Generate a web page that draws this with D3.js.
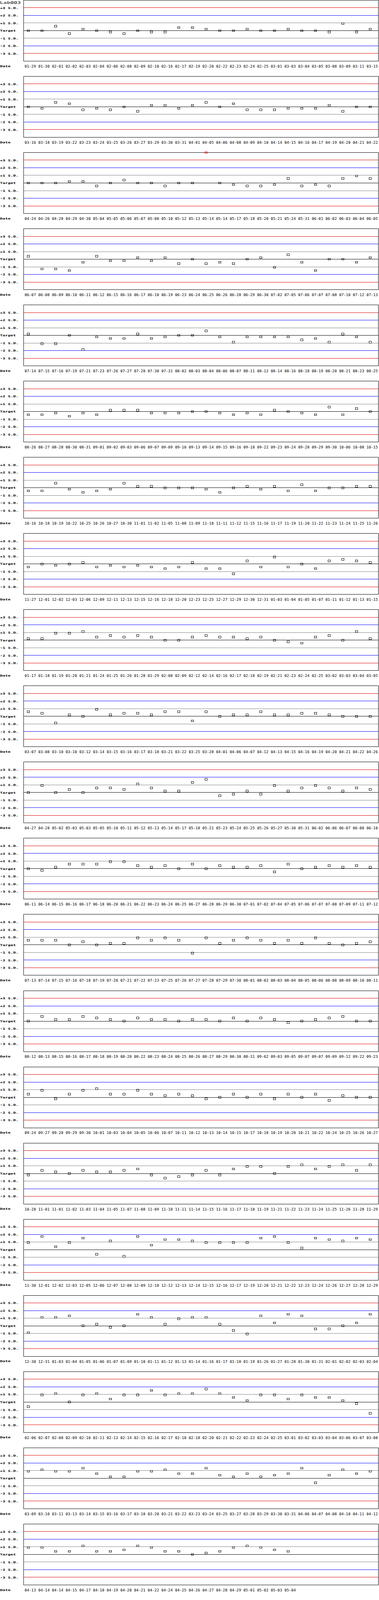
<!DOCTYPE html>
<html>
<head>
<meta charset="utf-8">
<script src="https://cdn.jsdelivr.net/npm/d3@7"></script>
<style>
  html, body { margin: 0; padding: 0; background: #fff; overflow: hidden; }
  svg { display: block; }
</style>
</head>
<body>
<div id="chart"></div>
<script>
// ---------------- DATA ----------------
const chartTitle = "Lab003";
const axisTitle = "Date";
const perPanel = 26;

const limitLevels = [3, 2, 1, 0, -1, -2, -3];
const limitLabels = ["+3 S.D.", "+2 S.D.", "+1 S.D.", "Target", "-1 S.D.", "-2 S.D.", "-3 S.D."];
const limitColors = ["#dc0000", "#0000ff", "#808080", "#000000", "#808080", "#0000ff", "#dc0000"];

const dates = [
  // 1
  "01-29","01-30","02-01","02-02","02-03","02-04","02-06","02-08","02-09","02-10","02-16","02-17","02-19","02-20","02-22","02-23","02-24","02-25","03-01","03-03","03-04","03-05","03-08","03-09","03-11","03-15",
  // 2
  "03-16","03-18","03-19","03-22","03-23","03-24","03-25","03-26","03-27","03-29","03-30","03-31","04-01","04-05","04-06","04-08","04-09","04-10","04-14","04-15","04-16","04-17","04-19","04-20","04-21","04-22",
  // 3
  "04-24","04-26","04-28","04-29","04-30","05-04","05-05","05-06","05-07","05-08","05-10","05-12","05-13","05-14","05-14","05-17","05-18","05-20","05-21","05-24","05-31","06-01","06-02","06-03","06-04","06-05",
  // 4
  "06-07","06-08","06-09","06-10","06-11","06-12","06-15","06-16","06-17","06-18","06-19","06-23","06-24","06-25","06-26","06-28","06-29","06-30","07-02","07-05","07-06","07-07","07-08","07-10","07-12","07-13",
  // 5
  "07-14","07-15","07-16","07-19","07-21","07-23","07-26","07-27","07-28","07-30","07-31","08-02","08-03","08-04","08-06","08-07","08-11","08-12","08-14","08-16","08-18","08-19","08-20","08-21","08-23","08-25",
  // 6
  "08-26","08-27","08-28","08-30","08-31","09-01","09-02","09-03","09-06","09-07","09-09","09-10","09-13","09-14","09-15","09-16","09-18","09-22","09-23","09-24","09-28","09-29","09-30","10-06","10-08","10-15",
  // 7
  "10-16","10-18","10-19","10-22","10-25","10-26","10-27","10-30","11-01","11-02","11-05","11-08","11-09","11-10","11-11","11-12","11-15","11-16","11-17","11-19","11-20","11-22","11-23","11-24","11-25","11-26",
  // 8
  "11-27","12-01","12-02","12-03","12-06","12-09","12-11","12-13","12-15","12-16","12-18","12-20","12-23","12-25","12-27","12-29","12-30","12-31","01-03","01-04","01-05","01-07","01-11","01-12","01-13","01-15",
  // 9
  "01-17","01-18","01-19","01-20","01-21","01-24","01-25","01-26","01-28","01-29","02-08","02-09","02-12","02-14","02-16","02-17","02-18","02-19","02-21","02-23","02-24","02-25","03-02","03-03","03-04","03-05",
  // 10
  "03-07","03-08","03-10","03-10","03-12","03-14","03-15","03-16","03-17","03-18","03-21","03-22","03-25","03-28","04-01","04-06","04-07","04-12","04-13","04-15","04-16","04-19","04-20","04-21","04-22","04-26",
  // 11
  "04-27","04-28","05-02","05-03","05-03","05-05","05-10","05-11","05-12","05-13","05-14","05-17","05-18","05-21","05-23","05-24","05-25","05-26","05-27","05-30","05-31","06-02","06-06","06-07","06-08","06-10",
  // 12
  "06-11","06-14","06-15","06-16","06-17","06-18","06-20","06-21","06-22","06-23","06-24","06-25","06-27","06-28","06-29","06-30","07-01","07-02","07-04","07-05","07-06","07-07","07-08","07-09","07-11","07-12",
  // 13
  "07-13","07-14","07-15","07-16","07-18","07-19","07-20","07-21","07-22","07-23","07-25","07-26","07-27","07-28","07-29","07-30","08-01","08-02","08-03","08-04","08-05","08-06","08-08","08-09","08-10","08-11",
  // 14
  "08-12","08-13","08-15","08-16","08-17","08-18","08-19","08-20","08-22","08-23","08-24","08-25","08-26","08-27","08-29","08-30","08-31","09-02","09-03","09-05","09-07","09-07","09-09","09-12","09-22","09-23",
  // 15
  "09-24","09-27","09-28","09-29","09-30","10-01","10-03","10-04","10-05","10-06","10-07","10-11","10-12","10-13","10-14","10-15","10-17","10-18","10-19","10-20","10-21","10-22","10-24","10-25","10-26","10-27",
  // 16
  "10-28","11-01","11-01","11-02","11-03","11-04","11-05","11-07","11-08","11-09","11-10","11-11","11-14","11-15","11-16","11-17","11-18","11-19","11-21","11-22","11-23","11-24","11-25","11-26","11-28","11-29",
  // 17
  "11-30","12-01","12-02","12-03","12-05","12-06","12-07","12-08","12-09","12-10","12-12","12-13","12-14","12-15","12-16","12-17","12-19","12-20","12-21","12-22","12-23","12-24","12-26","12-27","12-28","12-29",
  // 18
  "12-30","12-31","01-03","01-04","01-05","01-06","01-07","01-09","01-10","01-11","01-12","01-13","01-14","01-16","01-17","01-18","01-19","01-26","01-27","01-28","01-30","01-31","02-01","02-02","02-03","02-04",
  // 19
  "02-06","02-07","02-08","02-09","02-10","02-11","02-13","02-14","02-15","02-16","02-17","02-18","02-18","02-20","02-21","02-22","02-23","02-24","02-25","03-01","03-02","03-03","03-04","03-06","03-07","03-08",
  // 20
  "03-09","03-10","03-11","03-13","03-14","03-15","03-16","03-17","03-18","03-20","03-21","03-22","03-23","03-24","03-25","03-27","03-28","03-29","03-30","03-31","04-06","04-07","04-08","04-10","04-11","04-12",
  // 21
  "04-13","04-14","04-14","04-15","04-17","04-18","04-19","04-20","04-21","04-22","04-24","04-25","04-26","04-27","04-28","04-29","05-01","05-02","05-03","05-04"
];

// deviation from target, in S.D. units
const sdValues = [
  // 1
  0,0,0.6,-0.4,0.2,0,-0.2,-0.4,0,-0.2,-0.2,0.4,0.4,0.2,0,0,0.2,0,0,0.2,0,0,-0.2,0.9,-0.2,0.2,
  // 2
  0,-0.2,0.6,0.4,-0.4,-0.2,-0.4,0,-0.6,0.2,0.2,-0.2,0.2,0.6,0,0.4,-0.4,-0.4,-0.4,-0.2,-0.2,-0.2,0.2,-0.6,0,0,
  // 3
  0,0,0,0.2,0.2,-0.4,0,0.4,0,0,-0.4,0,0,4,0,-0.2,-0.4,-0.4,-0.2,0.6,-0.4,-0.2,-0.4,0.6,0.9,0.6,
  // 4
  0.4,-1.3,-1.3,-1.5,-0.4,0.4,-0.2,-0.2,0.2,-0.2,0.2,-0.6,0,-0.6,-0.4,-0.6,0,0.2,-1.1,0.6,-0.4,-1.5,0,0,-0.4,0.2,
  // 5
  0.2,-1.1,-1.1,0,-1.9,-0.2,-0.4,-0.4,0.2,-0.4,-0.2,0,0,0.6,-0.2,-0.9,-0.2,-0.2,-0.2,-0.2,-0.6,-0.4,-0.9,0.2,-0.2,-0.9,
  // 6
  -0.4,-0.4,-0.2,-0.6,-0.2,-0.4,0.2,0.2,0.2,-0.2,-0.2,-0.2,0,0,-0.2,-0.4,-0.2,-0.4,0.2,0,-0.2,-0.4,0.6,-0.4,0.4,0,
  // 7
  -0.4,-0.4,0.6,-0.2,-0.6,-0.4,-0.2,0.6,0.2,0.2,0,0,0,-0.2,-0.6,0,0.2,-0.2,0.2,-0.4,0.4,-0.4,0,0,0.2,0.2,
  // 8
  -0.4,0,-0.2,0,0.2,-0.4,-0.2,-0.4,-0.2,-0.4,-0.6,-0.4,0.2,-0.6,-0.6,-1.3,0.4,-0.4,0.9,-0.4,0,-0.6,0.4,0.6,0.4,0.2,
  // 9
  0.2,0.2,0.9,0.9,1.1,0.4,0.6,0.4,0.6,0.4,0,0,0.4,0.6,0.4,0.4,0.2,0.4,0,-0.2,-0.4,0.4,0.6,0,1.1,0.2,
  // 10
  0.6,0.4,-0.9,0.2,0,0.9,0.2,0.4,0.4,0.2,0.6,0.6,-0.6,0.6,0,0.2,0.2,0.6,0.2,0.2,0.4,0.4,0.2,0,0,0,
  // 11
  0,0.9,0,0.4,0,0.6,0.6,0.4,1.1,0.6,0.2,0.2,1.3,1.7,-0.4,-0.2,0.2,-0.2,0.9,0.2,0.6,0.9,0.6,0.2,0.6,0.4,
  // 12
  0,-0.2,0.2,0.6,0.6,0.6,0.9,0.9,0.4,0.2,0.4,0,0.6,0,0.4,0.2,0.2,0.4,-0.4,0.6,0,0.2,0.4,0.2,0.4,0.2,
  // 13
  0.6,0.6,0.6,0,0.4,0,0.2,0.2,0.9,0.6,0.9,0.6,-1.1,0.9,0.2,0.6,0.9,0.6,0.2,0.6,0.2,0.9,0.2,0,0.2,0.4,
  // 14
  0,0.6,0.2,0.2,0.6,0.4,0.2,0,0.4,0.2,0.2,0,0.2,0.2,0,0.4,0,0.4,0.2,-0.2,0,0.2,0.4,0.6,0,0,
  // 15
  0.4,0.9,-0.2,0.4,0.9,1.1,0.4,0.4,0.9,0.4,0.2,0.4,0.2,-0.2,0,0.4,0,0.4,-0.2,0.4,0,0.4,-0.4,0.2,0,0,
  // 16
  -0.2,0.4,0.2,0,0.4,0.2,0.2,0.4,0.6,-0.2,-0.6,-0.4,-0.2,0.4,-0.2,0.6,0.9,0.9,0,0.9,1.1,0.6,0.9,1.1,0.4,1.1,
  // 17
  0.9,1.7,0.4,0.9,1.5,-0.6,1.1,-0.9,1.7,0.6,1.3,1.3,1.1,0.9,0.9,0.9,0.9,1.5,1.7,0.9,0.2,1.5,1.3,1.1,1.5,1.3,
  // 18
  -0.9,1.1,1.1,1.3,0,0.2,-0.2,0,1.5,1.1,0.2,0.9,1.1,1.1,0.2,-0.6,-1.1,1.3,0.4,1.5,1.3,-0.4,-0.4,0,0.4,1.5,
  // 19
  -0.6,0.9,1.1,0,0.9,1.1,0.4,0.9,0.9,1.5,0.9,1.1,1.1,1.7,1.1,0.6,0.2,0.9,0.9,0.4,0.9,0.6,0.6,0.2,-0.2,-1.5,
  // 20
  0.9,1.1,0.9,0.9,1.3,0.6,0.2,0.2,0.9,0.9,1.1,0.6,0.6,1.3,0.4,0.2,0.6,0.2,0.4,0.6,1.3,-0.6,0.4,1.1,0.6,0.9,
  // 21
  0.9,0.9,0.4,0.4,1.1,0.4,0.4,0.6,1.1,0.9,0.4,0.4,0,0.2,0.4,0.9,1.1,0.9,0.6,0.4
];

// ---------------- CHART ----------------
const W = 970, panelH = 250;
const nPanels = Math.ceil(dates.length / perPanel);
const H = nPanels * panelH;                       // 5250
const plotLeft = 60, plotRight = 969, plotTop = 0, plotBottom = 200;
const FONT = "'DejaVu Sans Mono', 'Liberation Mono', monospace";
const ADV = 0.602; // monospace advance per em

// The browser caps the viewport height (e.g. 4096px); fit the whole chart into what is visible.
const vh = window.innerHeight && window.innerHeight > 0 ? window.innerHeight : H;
const outH = Math.min(H, vh);

const svg = d3.select("#chart").append("svg")
  .attr("width", W).attr("height", outH)
  .attr("viewBox", `0 0 ${W} ${H}`)
  .attr("preserveAspectRatio", "none")
  .style("background", "#fff");

const x = d3.scaleLinear().domain([0, perPanel - 1]).range([72, 72 + 35 * (perPanel - 1)]);
const y = d3.scaleLinear().domain([-4, 4]).range([plotBottom, plotTop]).clamp(true);
const px = v => Math.round(x(v));
const py = v => Math.floor(y(v) + 0.4);

function fitText(sel, str, tx, ty, size, width, bold) {
  const sx = width / (str.length * ADV * size);
  return sel.append("text")
    .attr("transform", `translate(${tx},${ty}) scale(${sx.toFixed(4)},1)`)
    .attr("font-family", FONT).attr("font-size", size)
    .attr("font-weight", bold ? "bold" : "normal")
    .attr("fill", "#000")
    .text(str);
}

const panels = d3.range(nPanels).map(p => d3.range(p * perPanel, Math.min((p + 1) * perPanel, dates.length))
  .map((k, i) => ({ i, date: dates[k], v: sdValues[k] })));

const g = svg.selectAll("g.panel").data(panels).join("g")
  .attr("class", "panel")
  .attr("transform", (d, p) => `translate(0,${p * panelH})`);

// limit lines + labels
limitLevels.forEach((lv, li) => {
  g.append("line")
    .attr("x1", plotLeft).attr("x2", plotRight)
    .attr("y1", py(lv) + 0.5).attr("y2", py(lv) + 0.5)
    .attr("stroke", limitColors[li]).attr("stroke-width", 1)
    .attr("vector-effect", "non-scaling-stroke")
    .attr("shape-rendering", "crispEdges");
  g.each(function () {
    fitText(d3.select(this), limitLabels[li], 0, py(lv) + 4, 10, limitLabels[li].length * 6.75, true);
  });
});

// frame
g.append("rect")
  .attr("x", plotLeft + 0.5).attr("y", plotTop + 0.5)
  .attr("width", plotRight - plotLeft - 1).attr("height", plotBottom - plotTop)
  .attr("fill", "none").attr("stroke", "#000").attr("stroke-width", 1)
  .attr("vector-effect", "non-scaling-stroke")
  .attr("shape-rendering", "crispEdges");

// "Date" axis title
g.each(function () { fitText(d3.select(this), axisTitle, 0, 220, 10, 27, true); });

// date tick labels
const tickSize = 12, tickW = 29;
g.selectAll("text.tick").data(d => d).join("text")
  .attr("class", "tick")
  .attr("transform", d => `translate(${px(d.i) - 9},221.5) scale(${(tickW / (5 * ADV * tickSize)).toFixed(4)},1)`)
  .attr("font-family", FONT).attr("font-size", tickSize)
  .attr("fill", "#000")
  .text(d => d.date);

// points
g.selectAll("rect.pt").data(d => d).join("rect")
  .attr("class", "pt")
  .attr("x", d => px(d.i) - 2.5)
  .attr("y", d => py(d.v) - 2.5)
  .attr("width", 6).attr("height", 6)
  .attr("fill", "none")
  .attr("stroke", d => Math.abs(d.v) > 3 ? "#ff0000" : "#000")
  .attr("stroke-width", 1)
  .attr("vector-effect", "non-scaling-stroke")
  .attr("shape-rendering", "crispEdges");

// title
fitText(svg, chartTitle, 0, 13, 12, 53, false);
</script>
</body>
</html>
